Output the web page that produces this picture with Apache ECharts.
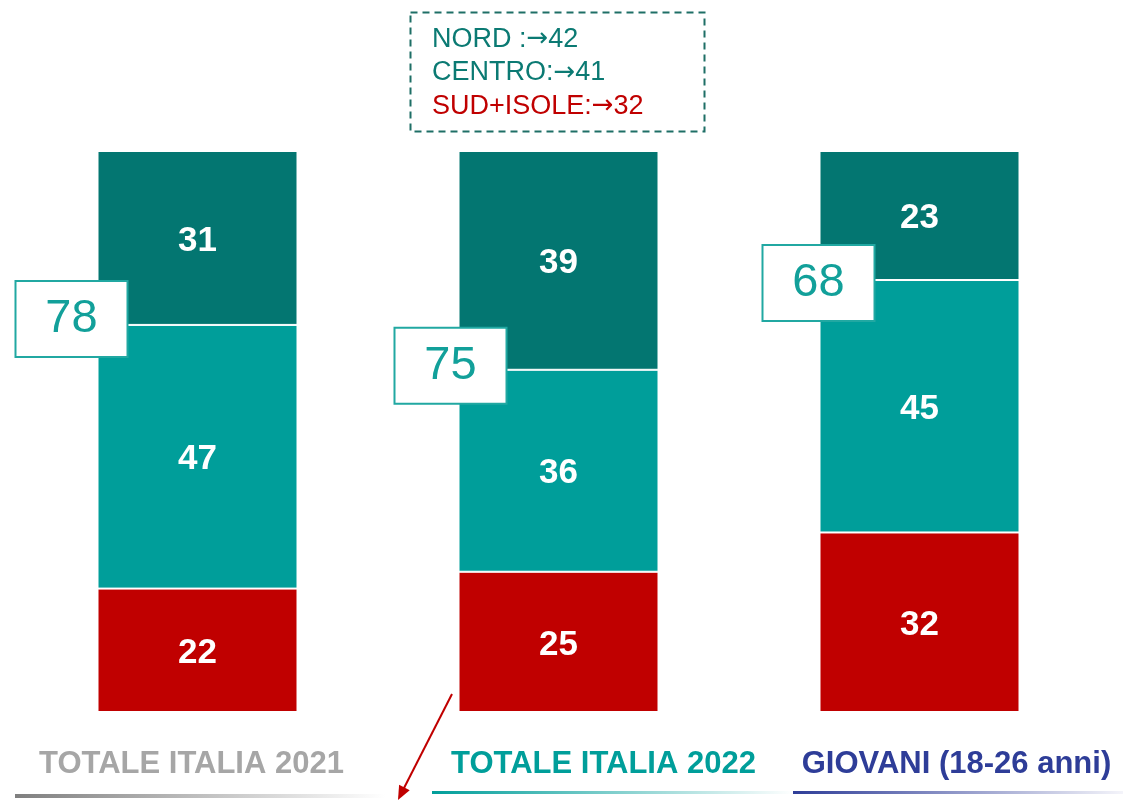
<!DOCTYPE html>
<html>
<head>
<meta charset="utf-8">
<script src="https://cdn.jsdelivr.net/npm/echarts@6/dist/echarts.min.js"></script>
<style>
html,body{margin:0;padding:0;background:#fff;}
#chart{width:1123px;height:800px;}
</style>
</head>
<body>
<div id="chart"></div>
<script>
// ---- data ----
const categories = ['TOTALE ITALIA 2021', 'TOTALE ITALIA 2022', 'GIOVANI (18-26 anni)'];
const seriesNames = ['Molto', 'Abbastanza', 'Poco / Per niente'];
const valuesTop = [31, 39, 23];      // dark teal
const valuesMid = [47, 36, 45];      // teal
const valuesBottom = [22, 25, 32];   // red
const totals = [78, 75, 68];         // boxed totals
const areaNames = ['NORD :', 'CENTRO:', 'SUD+ISOLE:'];
const areaValues = [42, 41, 32];

// ---- styling ----
const FONT = '"Liberation Sans", Arial, sans-serif';
const catColors = ['#A6A6A6', '#009E9A', '#2E3D98'];
const catShift = [-6, 45, 37];
const boxOffsets = [[-126, -6], [-108, -4], [-101, 3]];

const chart = echarts.init(document.getElementById('chart'), null, {renderer: 'canvas'});

const inLabel = {
  show: true, position: 'inside', color: '#fff', fontWeight: 'bold',
  fontSize: 35, fontFamily: FONT, offset: [0, 3]
};

const rich = {};
catColors.forEach((c, i) => {
  const s = catShift[i];
  rich['c' + i] = {
    color: c, fontWeight: 'bold', fontSize: 31, fontFamily: FONT,
    padding: s >= 0 ? [0, 0, 0, 2 * s] : [0, -2 * s, 0, 0]
  };
});

const boxData = categories.map((c, i) => ({
  value: [c, valuesBottom[i] + valuesMid[i]],
  label: {offset: boxOffsets[i]}
}));

const option = {
  backgroundColor: '#fff',
  animation: false,
  grid: {left: 17, right: 23, top: 151, bottom: 88},
  xAxis: {
    type: 'category', data: categories,
    axisLine: {show: false}, axisTick: {show: false}, splitLine: {show: false},
    axisLabel: {
      interval: 0, margin: 52, verticalAlign: 'middle',
      formatter: (v, i) => '{c' + i + '|' + v + '}',
      rich: rich
    }
  },
  yAxis: {type: 'value', min: 0, max: 100, show: false},
  series: [
    {
      name: seriesNames[2], type: 'bar', stack: 's', barWidth: 200,
      data: valuesBottom,
      itemStyle: {color: '#C00000', borderColor: '#fff', borderWidth: 1},
      label: inLabel
    },
    {
      name: seriesNames[1], type: 'bar', stack: 's', barWidth: 200,
      data: valuesMid,
      itemStyle: {color: '#009E9A', borderColor: '#fff', borderWidth: 1},
      label: inLabel
    },
    {
      name: seriesNames[0], type: 'bar', stack: 's', barWidth: 200,
      data: valuesTop,
      itemStyle: {color: '#037671', borderColor: '#fff', borderWidth: 1},
      label: inLabel
    },
    {
      type: 'scatter', z: 5, symbolSize: 1,
      itemStyle: {color: 'rgba(0,0,0,0)', opacity: 1},
      emphasis: {disabled: true},
      data: boxData,
      label: {
        show: true, position: 'inside',
        formatter: p => String(totals[p.dataIndex]),
        width: 110, height: 74, lineHeight: 74,
        align: 'center', verticalAlign: 'middle',
        backgroundColor: '#fff', borderColor: '#21A8A2', borderWidth: 2,
        color: '#12A09A', fontSize: 47, fontFamily: FONT, opacity: 1
      }
    }
  ],
  graphic: [
    {
      type: 'rect', z: 10,
      shape: {x: 410.5, y: 12.5, width: 294, height: 119},
      style: {fill: 'none', stroke: '#1E6F66', lineWidth: 2, lineDash: [7, 5]}
    },
    ...areaNames.map((t, i) => {
      const col = i < 2 ? '#0B7A73' : '#C00000';
      return {
        type: 'text', z: 10, left: 432, top: 26 + i * 33.5,
        style: {
          text: '{t|' + t + '}{a|\u2192}{t|' + areaValues[i] + '}',
          rich: {
            t: {fontSize: 27, fontFamily: FONT, fill: col, color: col},
            a: {fontSize: 26, fontFamily: '"DejaVu Sans", sans-serif', fill: col, color: col}
          }
        }
      };
    }),
    {
      type: 'rect', z: 1,
      shape: {x: 15, y: 794, width: 370, height: 4},
      style: {fill: new echarts.graphic.LinearGradient(0, 0, 1, 0, [
        {offset: 0, color: '#7F7F7F'}, {offset: 1, color: '#FFFFFF'}])}
    },
    {
      type: 'rect', z: 1,
      shape: {x: 432, y: 791, width: 362, height: 3},
      style: {fill: new echarts.graphic.LinearGradient(0, 0, 1, 0, [
        {offset: 0, color: '#009E9A'}, {offset: 1, color: '#FFFFFF'}])}
    },
    {
      type: 'rect', z: 1,
      shape: {x: 793, y: 791, width: 330, height: 3},
      style: {fill: new echarts.graphic.LinearGradient(0, 0, 1, 0, [
        {offset: 0, color: '#2E3D98'}, {offset: 1, color: '#F4F4FA'}])}
    },
    {
      type: 'line', z: 10,
      shape: {x1: 452, y1: 694, x2: 403, y2: 790},
      style: {stroke: '#C00000', lineWidth: 2}
    },
    {
      type: 'polygon', z: 10,
      shape: {points: [[398, 800], [409.7, 790.2], [399.1, 784.8]]},
      style: {fill: '#C00000'}
    }
  ]
};
chart.setOption(option);
</script>
</body>
</html>
